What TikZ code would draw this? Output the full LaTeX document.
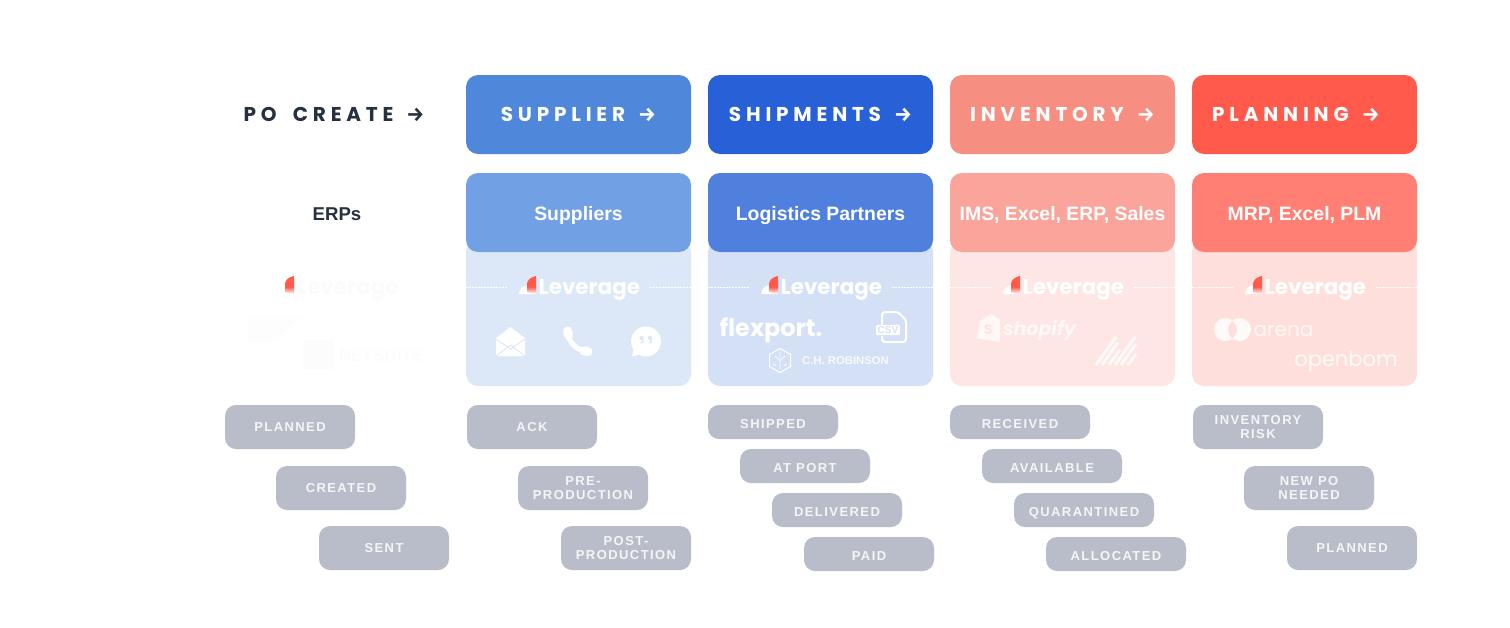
\documentclass[tikz,border=0pt]{standalone}
\usepackage{fontspec}
\usepackage{xcolor}
\usepackage{tikz}
\setmainfont{Liberation Sans}
\newfontfamily\headfont[LetterSpace=24,WordSpace=1.8]{Poppins}
\newfontfamily\logofont{Poppins}
\newfontfamily\badgefont[LetterSpace=11]{Liberation Sans}
\newfontfamily\arrowfont{Fira Sans}
\newcommand{\headarrow}{\hspace{13pt}{\arrowfont\bfseries →}}
\definecolor{inkdark}{HTML}{26303F}
\definecolor{lvred}{HTML}{FF5A4C}
\definecolor{supplierA}{HTML}{4F87DB}
\definecolor{supplierB}{HTML}{72A0E4}
\definecolor{supplierC}{HTML}{DCE7F8}
\definecolor{shipA}{HTML}{2860D8}
\definecolor{shipB}{HTML}{5080DE}
\definecolor{shipC}{HTML}{D4E0F6}
\definecolor{invA}{HTML}{F78E82}
\definecolor{invB}{HTML}{FBA49C}
\definecolor{invC}{HTML}{FEE6E4}
\definecolor{planA}{HTML}{FF5A4C}
\definecolor{planB}{HTML}{FF7F74}
\definecolor{planC}{HTML}{FFDFDB}
\definecolor{badgegrey}{HTML}{B8BDC9}
\definecolor{badgetext}{HTML}{F4F5F7}
\definecolor{ghost}{HTML}{FBFBFD}

\begin{document}
\begin{tikzpicture}[x=1pt, y=-1pt,
		card/.style={rounded corners=12pt, inner sep=0pt, minimum width=225pt, minimum height=79pt},
		headcard/.style={card, text=white, font=\headfont\bfseries\fontsize{20}{24}\selectfont},
		subcard/.style={card, text=white, text height=15pt, text depth=0pt, font=\bfseries\fontsize{19.4}{24}\selectfont},
		bodycard/.style={rounded corners=12pt, inner sep=0pt, minimum width=225pt, minimum height=146pt},
		badge/.style={fill=badgegrey, text=badgetext, rounded corners=11pt, inner sep=0pt, minimum width=130pt, minimum height=44pt, align=center, font=\badgefont\bfseries\fontsize{13}{14.5}\selectfont},
		slimbadge/.style={badge, minimum height=34pt, text height=12pt, text depth=0pt},
		widebadge/.style={slimbadge, minimum width=140pt},
		lever/.style={text=white, inner sep=0pt, text height=19pt, text depth=5pt, font=\logofont\bfseries\fontsize{21.4}{26}\selectfont},
		logotext/.style={text=white, inner sep=0pt},
		dashline/.style={white, line width=0.6pt, dash pattern=on 2pt off 1pt},
		leveragemark/.pic={
			\fill[white] (-17,0) .. controls (-17,-5) and (-12,-9) .. (-8,-9) -- (0,0) -- cycle;
			\fill[lvred] (0,-18) .. controls (-5,-17) and (-9,-14) .. (-9,-10) -- (-9,-7) -- (0,-7) -- cycle;
			\shade[top color=lvred, bottom color=white] (-9,-7.2) -- (-9,-2) -- (0,0) -- (0,-7.2) -- cycle;
		}]
		\useasboundingbox (0,0) rectangle (1510,627);
		\fill[white] (0,0) rectangle (1510,627);

		% first row
		\node[text=inkdark, inner sep=0pt, font=\headfont\bfseries\fontsize{20}{24}\selectfont] (pohead) at (334,114) {PO CREATE\headarrow};
		\node[headcard, fill=supplierA] (supplierhead) at (578.5,114.5) {SUPPLIER\headarrow};
		\node[headcard, fill=shipA] (shiphead) at (820.5,114.5) {SHIPMENTS\headarrow};
		\node[headcard, fill=invA] (invhead) at (1062.5,114.5) {INVENTORY\headarrow};
		\node[headcard, fill=planA] (planhead) at (1304.5,114.5) {PLANNING\headarrow\hspace*{17pt}};

		% bodies go under the second row
		\node[bodycard, fill=supplierC] (supplierbody) at (578.5,313) {};
		\node[bodycard, fill=shipC] (shipbody) at (820.5,313) {};
		\node[bodycard, fill=invC] (invbody) at (1062.5,313) {};
		\node[bodycard, fill=planC] (planbody) at (1304.5,313) {};

		% second row
		\node[text=inkdark, inner sep=0pt, text height=15pt, text depth=0pt, font=\bfseries\fontsize{18.6}{24}\selectfont] (erptitle) at (337,213) {ERPs};
		\node[subcard, fill=supplierB] (suppliersub) at (578.5,212.5) {Suppliers};
		\node[subcard, fill=shipB] (shipsub) at (820.5,212.5) {Logistics Partners};
		\node[subcard, fill=invB] (invsub) at (1062.5,212.5) {IMS, Excel, ERP, Sales};
		\node[subcard, fill=planB] (plansub) at (1304.5,212.5) {MRP, Excel, PLM};

		% leverage row
		\pic at (294,294) {leveragemark};
		\pic at (536,294) {leveragemark};
		\pic at (778,294) {leveragemark};
		\pic at (1020,294) {leveragemark};
		\pic at (1262,294) {leveragemark};
		\node[lever, text=ghost, anchor=west] (ghostlever) at (297,287) {Leverage};
		\node[lever, anchor=west] (supplierlever) at (538.5,287) {Leverage};
		\node[lever, anchor=west] (shiplever) at (780.5,287) {Leverage};
		\node[lever, anchor=west] (invlever) at (1022.5,287) {Leverage};
		\node[lever, anchor=west] (planlever) at (1264.5,287) {Leverage};
		\draw[dashline] (supplierbody.west |- supplierlever.west) -- ++(41,0);
		\draw[dashline] (supplierbody.east |- supplierlever.west) -- ++(-42,0);
		\draw[dashline] (shipbody.west |- shiplever.west) -- ++(41,0);
		\draw[dashline] (shipbody.east |- shiplever.west) -- ++(-42,0);
		\draw[dashline] (invbody.west |- invlever.west) -- ++(41,0);
		\draw[dashline] (invbody.east |- invlever.west) -- ++(-42,0);
		\draw[dashline] (planbody.west |- planlever.west) -- ++(41,0);
		\draw[dashline] (planbody.east |- planlever.west) -- ++(-42,0);

		% erp logos, nearly gone
		\fill[ghost!50] (248,316) -- (303,316) -- (276,342) -- (248,342) -- cycle;
		\fill[ghost!60!violet!3] (303,340) rectangle (334,369);
		\node[logotext, text=ghost!60!violet!3, font=\bfseries\fontsize{17}{20}\selectfont] (netsuite) at (381,356) {NETSUITE};

		% supplier icons
		\fill[white] (496,338) -- (510.5,327) -- (525,338) -- (525,356) -- (496,356) -- cycle;
		\draw[supplierC, line width=0.9pt] (496,339) -- (510.5,349) -- (525,339);
		\draw[supplierC, line width=0.9pt] (496,356) -- (510.5,345) -- (525,356);
		\draw[white, line width=5pt] (568,333) .. controls (568,342) and (577,351) .. (587,351);
		\draw[white, line width=9pt, line cap=round] (567.5,331) -- (568.5,335);
		\draw[white, line width=9pt, line cap=round] (584,351) -- (588,351.5);
		\fill[white] (646,341.5) circle[radius=15];
		\fill[white] (634,347) -- (632,356.5) -- (643,354) -- cycle;
		\fill[supplierC] (641.5,338) circle[radius=2.2];
		\fill[supplierC] (650,338) circle[radius=2.2];
		\fill[supplierC] (643.7,338) -- (643,343) -- (640,343.5) -- cycle;
		\fill[supplierC] (652.2,338) -- (651.5,343) -- (648.5,343.5) -- cycle;

		% logistics logos
		\node[logotext, font=\logofont\bfseries\fontsize{24}{28}\selectfont] (flexport) at (771,330) {flexport.};
		\draw[white, line width=2pt, rounded corners=3pt] (882,325) -- (882,312) -- (898,312) -- (906,320) -- (906,342) -- (882,342) -- (882,336);
		\node[fill=white, text=shipC, rounded corners=1pt, inner sep=1.5pt, font=\bfseries\fontsize{10}{10}\selectfont] (csvtag) at (888,330) {CSV};
		\draw[white, line width=1pt] (780,348.5) -- (790.5,354.5) -- (790.5,366.5) -- (780,372.5) -- (769.5,366.5) -- (769.5,354.5) -- cycle;
		\draw[white, line width=0.8pt] (780,352) -- (780,358) (775,356) -- (780,360.5) -- (785,356) (780,360.5) -- (780,369) (773,364) -- (776,366) (787,364) -- (784,366);
		\node[logotext, text=white!85!shipC, font=\bfseries\fontsize{11.3}{14}\selectfont] (chrobinson) at (845.5,361) {C.H. ROBINSON};

		% inventory logos
		\fill[white!70!invC] (980,321) -- (992,314) -- (1000,320) -- (1000,342) -- (977,338) -- cycle;
		\node[logotext, text=invC, font=\logofont\bfseries\fontsize{14}{14}\selectfont] (shopifys) at (988.5,330) {S};
		\node[logotext, text=white!70!invC, font=\logofont\bfseries\itshape\fontsize{19}{26}\selectfont] (shopify) at (1039.5,330) {shopify};
		\draw[white!80!invC, line width=3pt] (1096,365) -- (1116,337) (1102,365) -- (1118,342.5) (1109,365) -- (1120,349.5) (1115,365) -- (1135,337) (1121,365) -- (1136,344) (1128,365) -- (1136,354);

		% planning logos
		\fill[white!85!planC, even odd rule] (1225.5,329.5) circle[radius=11.5] (1239.5,329.5) circle[radius=11.5];
		\node[logotext, text=white!75!planC, font=\logofont\fontsize{20}{25}\selectfont] (arena) at (1283.5,331) {arena};
		\node[logotext, text=white!85!planC, font=\logofont\fontsize{21}{25}\selectfont] (openbom) at (1346,361.5) {openbom};

		% status badges
		\node[badge] (poplanned) at (290,427) {PLANNED};
		\node[badge] (pocreated) at (341,488) {CREATED};
		\node[badge] (posent) at (384,548) {SENT};
		\node[badge] (ack) at (532,427) {ACK};
		\node[badge] (preprod) at (583,488) {PRE-\\PRODUCTION};
		\node[badge] (postprod) at (626,548) {POST-\\PRODUCTION};
		\node[slimbadge] (shipped) at (773,422) {SHIPPED};
		\node[slimbadge] (atport) at (805,466) {AT PORT};
		\node[slimbadge] (delivered) at (837,510) {DELIVERED};
		\node[slimbadge] (paid) at (869,554) {PAID};
		\node[widebadge] (received) at (1020,422) {RECEIVED};
		\node[widebadge] (available) at (1052,466) {AVAILABLE};
		\node[widebadge] (quarantined) at (1084,510) {QUARANTINED};
		\node[widebadge] (allocated) at (1116,554) {ALLOCATED};
		\node[badge] (invrisk) at (1258,427) {INVENTORY\\RISK};
		\node[badge] (newpo) at (1309,488) {NEW PO\\NEEDED};
		\node[badge] (planplanned) at (1352,548) {PLANNED};
	\end{tikzpicture}
\end{document}
